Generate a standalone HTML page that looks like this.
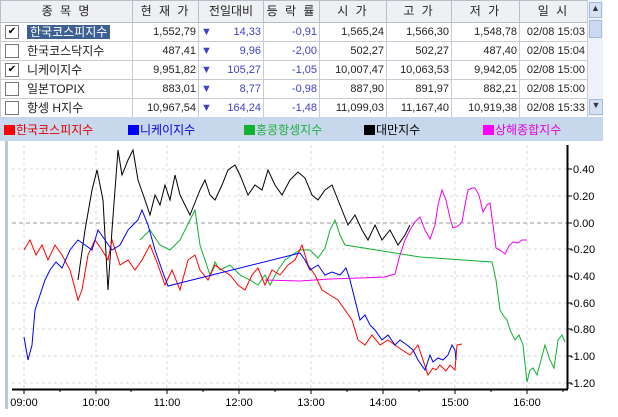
<!DOCTYPE html><html><head><meta charset="utf-8"><style>
body{margin:0;width:618px;height:417px;background:#fff;position:relative;overflow:hidden;font-family:"Liberation Sans","Noto Sans CJK KR","NanumGothic",sans-serif;font-size:11px}
table{position:absolute;left:0;top:0;border-collapse:collapse;width:587px;table-layout:fixed}
tr{height:19px}
td{border:1px solid #c6ccd4;height:18px;line-height:17px;padding:0 2px;text-align:right;color:#222;white-space:nowrap;overflow:hidden}
th{background:#eef0f3;border:1px solid #b8bec8;height:19px;line-height:17px;font-weight:normal;color:#222;letter-spacing:2px;white-space:nowrap;overflow:hidden;font-size:12px}
.n{text-align:left;padding-left:4px;font-size:12px}
.b{color:#4040c8}
.cb{display:inline-block;width:12px;height:12px;border:1px solid #777;background:#fff;vertical-align:middle;margin-right:8px;font-size:10px;line-height:12px;text-align:center;color:#000}
.sel{background:#3d5f92;color:#fff;padding:0 3px}
.leg{position:absolute;left:0;top:117px;width:603px;height:24px;background:#c8d8ec}
.leg span{position:absolute;top:4px;font-size:12px}
.leg i{display:inline-block;width:11px;height:10px;margin-right:1px;vertical-align:-1px}
</style></head><body>
<table>
<colgroup><col style="width:132px"><col style="width:66px"><col style="width:65px"><col style="width:56px"><col style="width:67px"><col style="width:65px"><col style="width:68px"><col style="width:68px"></colgroup>
<tr style="height:20px"><th>종 목 명</th><th>현 재 가</th><th style="letter-spacing:0">전일대비</th><th>등 락 률</th><th>시 가</th><th>고 가</th><th>저 가</th><th>일 시</th></tr>
<tr><td class="n"><span class="cb">✔</span><span class="sel">한국코스피지수</span></td><td>1,552,79</td><td class="b"><span style="float:left">▼</span>14,33</td><td class="b">-0,91</td><td>1,565,24</td><td>1,566,30</td><td>1,548,78</td><td>02/08 15:03</td></tr>
<tr><td class="n"><span class="cb"></span>한국코스닥지수</td><td>487,41</td><td class="b"><span style="float:left">▼</span>9,96</td><td class="b">-2,00</td><td>502,27</td><td>502,27</td><td>487,40</td><td>02/08 15:04</td></tr>
<tr><td class="n"><span class="cb">✔</span>니케이지수</td><td>9,951,82</td><td class="b"><span style="float:left">▼</span>105,27</td><td class="b">-1,05</td><td>10,007,47</td><td>10,063,53</td><td>9,942,05</td><td>02/08 15:00</td></tr>
<tr><td class="n"><span class="cb"></span>일본TOPIX</td><td>883,01</td><td class="b"><span style="float:left">▼</span>8,77</td><td class="b">-0,98</td><td>887,90</td><td>891,97</td><td>882,21</td><td>02/08 15:00</td></tr>
<tr><td class="n"><span class="cb"></span>항셍 H지수</td><td>10,967,54</td><td class="b"><span style="float:left">▼</span>164,24</td><td class="b">-1,48</td><td>11,099,03</td><td>11,167,40</td><td>10,919,38</td><td>02/08 15:33</td></tr>
</table>
<div style="position:absolute;left:587px;top:0;width:15px;height:116px;background:#eef2f8;border-left:1px solid #c6ccd4">
<div style="margin:2px 1px;height:14px;background:#d4e0f4;border:1px solid #a8b8d8;font-size:9px;text-align:center;color:#334">▲</div>
<div style="margin:2px 1px;height:16px;background:#cbd9f2;border:1px solid #a8b8d8"></div>
<div style="position:absolute;bottom:1px;left:1px;width:12px;height:14px;background:#d4e0f4;border:1px solid #a8b8d8;font-size:9px;text-align:center;color:#334">▼</div></div>
<div class="leg">
<span style="left:4px;color:#e00000"><i style="background:#f00"></i>한국코스피지수</span>
<span style="left:128px;color:#0000e0"><i style="background:#00f"></i>니케이지수</span>
<span style="left:244px;color:#20b040"><i style="background:#10b030"></i>홍콩항셍지수</span>
<span style="left:364px;color:#000"><i style="background:#000"></i>대만지수</span>
<span style="left:483px;color:#e000e0"><i style="background:#f0f"></i>상해종합지수</span>
</div>
<div style="position:absolute;left:5px;top:141px;width:3px;height:268px;background:#b8c8dc"></div>
<svg style="position:absolute;left:0;top:0" width="618" height="417" font-family="Liberation Sans, sans-serif" font-size="11">
<g stroke="#d8d8d8" stroke-dasharray="3,3" fill="none">
<path d="M24 145V389M96 145V389M167 145V389M239 145V389M311 145V389M383 145V389M455 145V389M527 145V389"/>
<path d="M12 169H567M12 196H567M12 249H567M12 276H567M12 303H567M12 329H567M12 356H567M12 383H567"/>
</g>
<path d="M12 223H567" stroke="#999" stroke-dasharray="4,3"/>
<g fill="none" stroke-width="1">
<polyline stroke="#000" points="78,280 85,230 92,190 97,170 103,200 108,290 112,230 118,150 122,175 128,160 133,150 138,180 145,200 150,215 155,195 160,205 165,185 170,200 175,175 180,195 185,205 190,215 196,200 200,190 205,180 210,195 215,200 222,185 228,170 235,165 240,175 248,195 255,185 262,190 268,170 275,185 282,195 290,180 298,172 305,178 312,195 318,200 325,190 332,185 340,205 348,225 355,215 362,230 368,240 375,225 382,240 390,230 398,245 405,235 410,225"/>
<polyline stroke="#10b030" points="140,240 150,230 160,245 170,250 180,240 190,220 195,210 200,245 205,260 210,275 215,262 220,270 230,265 240,275 250,280 258,285 265,275 270,285 278,270 285,260 292,255 300,250 310,250 318,258 325,248 330,230 335,220 340,235 345,245 420,257 492,262 496,280 500,310 503,315 507,320 510,330 515,340 519,335 523,345 527,382 530,370 533,368 537,375 541,360 545,345 550,360 554,368 558,340 562,335 565,342"/>
<polyline stroke="#f000f0" points="265,280 300,281 330,279 360,278 385,277 395,274 400,255 405,240 410,230 415,222 420,217 425,230 430,239 435,225 438,205 442,190 446,200 450,218 453,228 458,226 462,222 465,205 468,190 472,188 475,188 479,195 483,212 487,205 490,203 493,225 496,248 500,250 505,254 509,246 513,242 518,243 522,240 527,240"/>
<polyline stroke="#ff0000" points="24,250 30,240 36,255 42,245 48,260 55,245 62,255 70,270 78,300 82,290 88,255 95,240 102,250 108,260 112,240 120,265 128,260 135,270 142,260 150,245 158,265 165,285 172,270 180,290 188,260 195,255 200,270 208,280 215,265 222,270 230,275 238,285 245,290 252,275 258,268 265,285 272,270 280,275 288,265 295,260 302,245 308,265 315,275 322,290 330,295 338,300 345,310 352,320 358,340 365,345 372,335 380,345 388,340 395,345 402,350 410,355 418,345 423,360 428,375 433,368 436,370 440,365 446,371 450,365 455,370 457,345 462,344"/>
<polyline stroke="#0000f0" points="24,337 28,360 32,345 35,310 40,295 45,280 50,270 56,262 62,268 70,250 78,240 85,245 92,250 98,230 105,240 112,250 120,245 128,230 133,225 138,220 142,210 148,225 155,250 162,270 168,286 300,253 305,260 310,270 318,265 325,275 332,272 340,275 346,268 350,280 355,300 360,320 365,315 370,325 375,330 382,340 388,335 395,345 400,340 407,345 413,350 418,360 425,370 430,355 433,362 438,358 443,360 448,355 452,345 455,350 456,360"/>
</g>
<path d="M12 389.5H568M567.5 145V389" stroke="#000" stroke-width="2"/>
<g stroke="#000"><path d="M24 389v5M96 389v5M167 389v5M239 389v5M311 389v5M383 389v5M455 389v5M527 389v5M60 389v3M131 389v3M203 389v3M275 389v3M347 389v3M419 389v3M491 389v3M563 389v3"/>
<path d="M567 169h5M567 196h5M567 223h5M567 249h5M567 276h5M567 303h5M567 329h5M567 356h5M567 383h5"/></g>
<g fill="#000">
<text x="573" y="173">0.40</text><text x="573" y="200">0.20</text><text x="573" y="227">0.00</text><text x="570" y="253">-0.20</text><text x="570" y="280">-0.40</text><text x="570" y="307">-0.60</text><text x="570" y="333">-0.80</text><text x="570" y="360">-1.00</text><text x="570" y="387">-1.20</text>
<g text-anchor="middle"><text x="24" y="406">09:00</text><text x="96" y="406">10:00</text><text x="167" y="406">11:00</text><text x="239" y="406">12:00</text><text x="311" y="406">13:00</text><text x="383" y="406">14:00</text><text x="455" y="406">15:00</text><text x="527" y="406">16:00</text></g>
</g>
</svg>
</body></html>
